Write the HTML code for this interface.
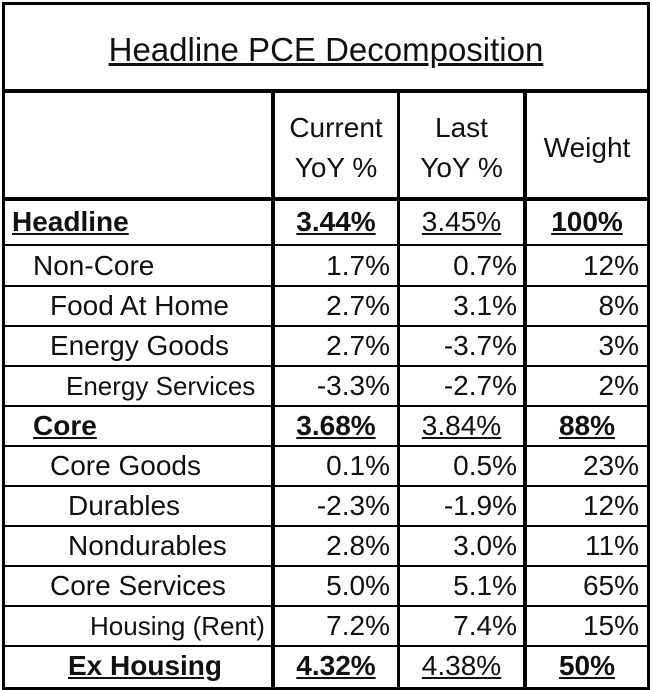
<!DOCTYPE html>
<html><head><meta charset="utf-8"><style>
body{margin:0;background:#fff;width:652px;height:690px;position:relative;overflow:hidden;font-family:"Liberation Sans",Arial,sans-serif;color:#111}
.l{position:absolute;background:#000}
.t{position:absolute;white-space:nowrap;font-size:28px;line-height:30px}
.r{text-align:right}
.c{text-align:center}
.b{font-weight:bold;text-decoration:underline}
.u{text-decoration:underline}
.s{font-size:26px}
</style></head><body>
<div class="l" style="left:2px;top:2px;width:648px;height:3px"></div>
<div class="l" style="left:2px;top:687px;width:648px;height:3px"></div>
<div class="l" style="left:2px;top:2px;width:3px;height:688px"></div>
<div class="l" style="left:647px;top:2px;width:3px;height:688px"></div>
<div class="l" style="left:2px;top:89px;width:648px;height:4px"></div>
<div class="l" style="left:2px;top:197px;width:648px;height:4px"></div>
<div class="l" style="left:271px;top:89px;width:4px;height:601px"></div>
<div class="l" style="left:397px;top:89px;width:3px;height:601px"></div>
<div class="l" style="left:523px;top:89px;width:4px;height:601px"></div>
<div class="l" style="left:2px;top:244px;width:648px;height:2px"></div>
<div class="l" style="left:2px;top:285px;width:648px;height:2px"></div>
<div class="l" style="left:2px;top:325px;width:648px;height:2px"></div>
<div class="l" style="left:2px;top:365px;width:648px;height:2px"></div>
<div class="l" style="left:2px;top:405px;width:648px;height:2px"></div>
<div class="l" style="left:2px;top:445px;width:648px;height:2px"></div>
<div class="l" style="left:2px;top:485px;width:648px;height:2px"></div>
<div class="l" style="left:2px;top:525px;width:648px;height:2px"></div>
<div class="l" style="left:2px;top:565px;width:648px;height:2px"></div>
<div class="l" style="left:2px;top:605px;width:648px;height:2px"></div>
<div class="l" style="left:2px;top:645px;width:648px;height:2px"></div>

<div class="t c u" style="left:5px;width:642px;top:31px;font-size:33px;line-height:38px">Headline PCE Decomposition</div>
<div class="t c" style="left:275px;width:122px;top:113px">Current</div>
<div class="t c" style="left:275px;width:122px;top:153px">YoY %</div>
<div class="t c" style="left:400px;width:123px;top:113px">Last</div>
<div class="t c" style="left:400px;width:123px;top:153px">YoY %</div>
<div class="t c" style="left:527px;width:120px;top:133px">Weight</div>

<div class="t b" style="left:12px;top:207px">Headline</div>
<div class="t c b" style="left:275px;width:122px;top:207px">3.44%</div>
<div class="t c u" style="left:400px;width:123px;top:207px">3.45%</div>
<div class="t c b" style="left:527px;width:120px;top:207px">100%</div>

<div class="t" style="left:33px;top:251px">Non-Core</div>
<div class="t r" style="left:275px;width:115px;top:251px">1.7%</div>
<div class="t r" style="left:400px;width:117px;top:251px">0.7%</div>
<div class="t r" style="left:527px;width:112px;top:251px">12%</div>

<div class="t" style="left:50px;top:291px">Food At Home</div>
<div class="t r" style="left:275px;width:115px;top:291px">2.7%</div>
<div class="t r" style="left:400px;width:117px;top:291px">3.1%</div>
<div class="t r" style="left:527px;width:112px;top:291px">8%</div>

<div class="t" style="left:50px;top:331px">Energy Goods</div>
<div class="t r" style="left:275px;width:115px;top:331px">2.7%</div>
<div class="t r" style="left:400px;width:117px;top:331px">-3.7%</div>
<div class="t r" style="left:527px;width:112px;top:331px">3%</div>

<div class="t s" style="left:66px;top:371px">Energy Services</div>
<div class="t r" style="left:275px;width:115px;top:371px">-3.3%</div>
<div class="t r" style="left:400px;width:117px;top:371px">-2.7%</div>
<div class="t r" style="left:527px;width:112px;top:371px">2%</div>

<div class="t b" style="left:33px;top:411px">Core</div>
<div class="t c b" style="left:275px;width:122px;top:411px">3.68%</div>
<div class="t c u" style="left:400px;width:123px;top:411px">3.84%</div>
<div class="t c b" style="left:527px;width:120px;top:411px">88%</div>

<div class="t" style="left:50px;top:451px">Core Goods</div>
<div class="t r" style="left:275px;width:115px;top:451px">0.1%</div>
<div class="t r" style="left:400px;width:117px;top:451px">0.5%</div>
<div class="t r" style="left:527px;width:112px;top:451px">23%</div>

<div class="t" style="left:68px;top:491px">Durables</div>
<div class="t r" style="left:275px;width:115px;top:491px">-2.3%</div>
<div class="t r" style="left:400px;width:117px;top:491px">-1.9%</div>
<div class="t r" style="left:527px;width:112px;top:491px">12%</div>

<div class="t" style="left:68px;top:531px">Nondurables</div>
<div class="t r" style="left:275px;width:115px;top:531px">2.8%</div>
<div class="t r" style="left:400px;width:117px;top:531px">3.0%</div>
<div class="t r" style="left:527px;width:112px;top:531px">11%</div>

<div class="t" style="left:50px;top:571px">Core Services</div>
<div class="t r" style="left:275px;width:115px;top:571px">5.0%</div>
<div class="t r" style="left:400px;width:117px;top:571px">5.1%</div>
<div class="t r" style="left:527px;width:112px;top:571px">65%</div>

<div class="t s" style="left:90px;top:611px">Housing (Rent)</div>
<div class="t r" style="left:275px;width:115px;top:611px">7.2%</div>
<div class="t r" style="left:400px;width:117px;top:611px">7.4%</div>
<div class="t r" style="left:527px;width:112px;top:611px">15%</div>

<div class="t b" style="left:68px;top:651px">Ex Housing</div>
<div class="t c b" style="left:275px;width:122px;top:651px">4.32%</div>
<div class="t c u" style="left:400px;width:123px;top:651px">4.38%</div>
<div class="t c b" style="left:527px;width:120px;top:651px">50%</div>
</body></html>
